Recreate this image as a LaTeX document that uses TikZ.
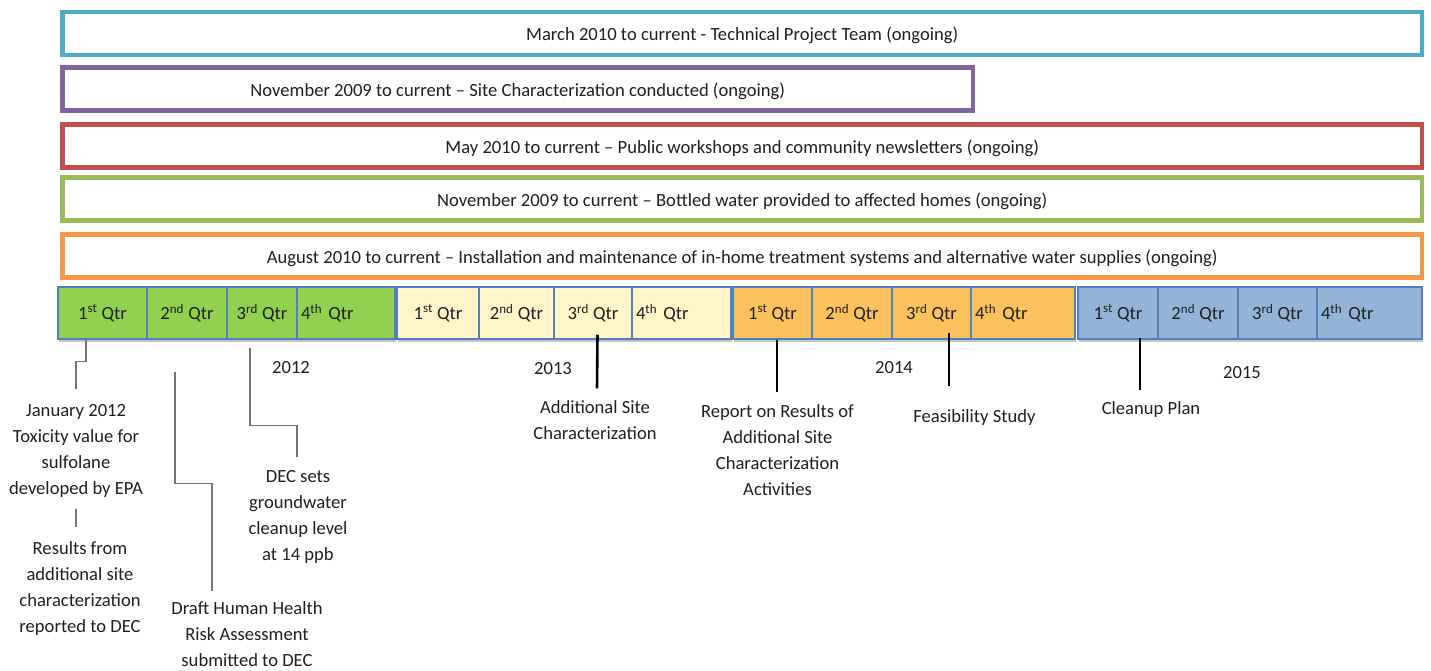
\documentclass[tikz,border=0pt]{standalone}
\usepackage{fontspec}
\setmainfont{Carlito}
\usepackage{xcolor}
\usepackage{tikz}
\usetikzlibrary{positioning,calc,shadows}

\definecolor{aqualine}{HTML}{4BACC6}
\definecolor{purpleline}{HTML}{8064A2}
\definecolor{redline}{HTML}{C0504D}
\definecolor{greenline}{HTML}{9BBB59}
\definecolor{orangeline}{HTML}{F79646}
\definecolor{cellblue}{HTML}{4F81BD}
\definecolor{qgreen}{HTML}{92D050}
\definecolor{qyellow}{HTML}{FFF4CA}
\definecolor{qorange}{HTML}{FAC15C}
\definecolor{qblue}{HTML}{95B3D7}

\begin{document}
\begin{tikzpicture}[x=1pt,y=-1pt,
    every node/.style={font=\fontsize{18.6}{26}\selectfont, text=black!88},
    phase/.style={draw, line width=4.5pt, minimum height=43pt, inner sep=0pt, anchor=west,
        text height=15pt, text depth=0pt},
    qtr/.style={draw=cellblue, line width=1.5pt, minimum height=52pt, inner sep=4pt,
        drop shadow={shadow xshift=0.5pt, shadow yshift=-2.5pt, fill=black!45, opacity=.5}},
    note/.style={align=center, inner sep=1pt},
    link/.style={draw=black!55, line width=1.3pt},
    tick/.style={draw=black, line width=2.6pt}]
    \useasboundingbox (0,0) rectangle (1431,671);

    % Ongoing activities
    \node[phase, draw=aqualine, minimum width=1359.5pt] (team) at (60.25,33.5)
        {March 2010 to current - Technical Project Team (ongoing)};
    \node[phase, draw=purpleline, minimum width=910.5pt] (sitechar) at (60.25,89)
        {November 2009 to current -- Site Characterization conducted (ongoing)};
    \node[phase, draw=redline, minimum width=1359.5pt] (public) at (60.25,146)
        {May 2010 to current -- Public workshops and community newsletters (ongoing)};
    \node[phase, draw=greenline, minimum width=1359.5pt] (bottled) at (60.25,199)
        {November 2009 to current -- Bottled water provided to affected homes (ongoing)};
    \node[phase, draw=orangeline, minimum width=1359.5pt] (inhome) at (60.25,256)
        {August 2010 to current -- Installation and maintenance of in-home treatment systems and alternative water supplies (ongoing)};

    % Quarters
    \foreach \yr/\col/\xa/\xb/\xc/\xd/\xe in {2012/qgreen/58/147/227/297/395,
        2013/qyellow/397/479/554/632/731, 2014/qorange/733/812/892/971/1075,
        2015/qblue/1078/1158/1238/1317/1422} {
        \pgfmathsetmacro\cwa{\xb-\xa}
        \pgfmathsetmacro\cwb{\xc-\xb}
        \pgfmathsetmacro\cwc{\xd-\xc}
        \pgfmathsetmacro\cwd{\xe-\xd}
        \pgfmathsetmacro\ctd{\xe-\xd-8}
        \node[qtr, fill=\col, minimum width=\cwa pt] (q\yr-1) at ({(\xa+\xb)/2},313) {1\textsuperscript{st} Qtr};
        \node[qtr, fill=\col, minimum width=\cwb pt] (q\yr-2) at ({(\xb+\xc)/2},313) {2\textsuperscript{nd} Qtr};
        \node[qtr, fill=\col, minimum width=\cwc pt] (q\yr-3) at ({(\xc+\xd)/2},313) {3\textsuperscript{rd} Qtr};
        \node[qtr, fill=\col, minimum width=\cwd pt, text width=\ctd pt, align=left] (q\yr-4) at ({(\xd+\xe)/2},313) {4\textsuperscript{th} Qtr};
    }

    % Years
    \node (y2012) at (291,368) {2012};
    \node (y2013) at (553,369) {2013};
    \node (y2014) at (894,368) {2014};
    \node (y2015) at (1242,373) {2015};

    % Milestones
    \node[note] (jan) at (76,451) {January 2012\\Toxicity value for\\sulfolane\\developed by EPA};
    \node[note] (results) at (80,589) {Results from\\additional site\\characterization\\reported to DEC};
    \node[note] (draft) at (247,634) {Draft Human Health\\Risk Assessment\\submitted to DEC};
    \node[note] (decsets) at (298,517) {DEC sets\\groundwater\\cleanup level\\at 14 ppb};
    \node[note] (addsite) at (595,420) {Additional Site\\Characterization};
    \node[note] (report) at (777.5,450) {Report on Results of\\Additional Site\\Characterization\\Activities};
    \node[note] (feas) at (974.5,418) {Feasibility Study};
    \node[note] (cleanup) at (1151,410) {Cleanup Plan};

    % Grey leaders
    \draw[link] ([xshift=-16.5pt]q2012-1.south) -- ++(0,22) -| ($(jan.north)+(0,-14)$);
    \draw[link] ($(jan.south)+(0,10)$) -- ($(jan.south|-results.north)+(0,-14)$);
    \draw[link] ($(q2012-2.south)+(-12,32)$) |- ($(draft.north)+(-35,-117)$) -- ($(draft.north)+(-35,-9)$);
    \draw[link] ($(q2012-3.south)+(-12,8)$) |- ($(decsets.north)+(-1,-44)$) -- ($(decsets.north)+(-1,-12)$);

    % Black leaders
    \draw[tick] ($(q2013-3.south)+(4.5,-5)$) -- ($(addsite.north)+(2,-11)$);
    \draw[tick] ($(q2014-1.south)+(4.5,0)$) -- ($(report.north)+(-0.5,-11)$);
    \draw[tick] ($(q2014-3.south)+(17.5,-7)$) -- ($(feas.north)+(-25.5,-23)$);
    \draw[tick] ($(q2015-1.south)+(22,-2)$) -- ($(cleanup.north)+(-11,-11)$);
\end{tikzpicture}
\end{document}
